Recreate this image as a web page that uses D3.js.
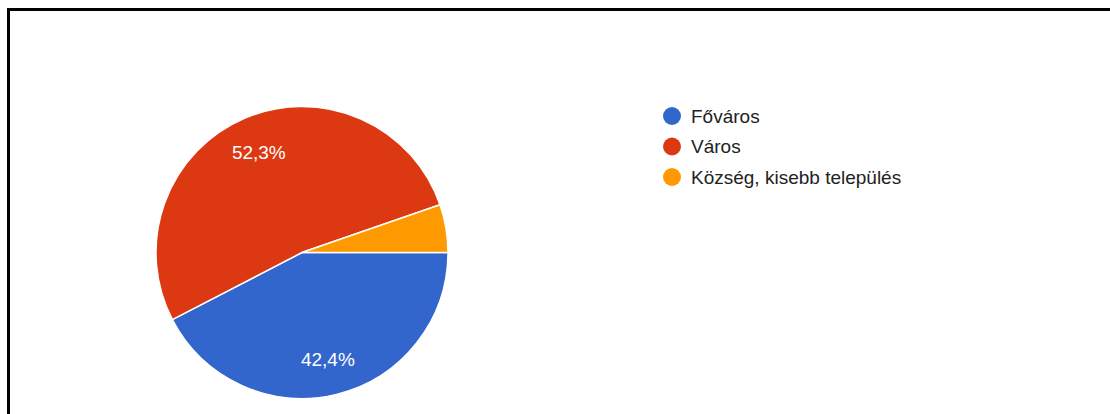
<!DOCTYPE html>
<html>
<head>
<meta charset="utf-8">
<script src="https://cdn.jsdelivr.net/npm/d3@7"></script>
<style>
  body { margin: 0; background: #fff; }
  svg { display: block; font-family: "Liberation Sans", Arial, sans-serif; }
</style>
</head>
<body>
<script>
// slice data
var categories = ["Főváros", "Város", "Község, kisebb település"];
var shares = [42.4, 52.3, 5.3];
var colors = ["#3366cc", "#dc3912", "#ff9900"];

var width = 1110, height = 414;
var cx = 302, cy = 252.5, radius = 146;

var svg = d3.select("body").append("svg")
    .attr("width", width)
    .attr("height", height);

svg.append("rect").attr("width", width).attr("height", height).attr("fill", "#fff");

// frame (top and left edges visible only)
svg.append("path")
    .attr("d", "M8.5," + height + "V9.5H" + width)
    .attr("fill", "none")
    .attr("stroke", "#000")
    .attr("stroke-width", 3);

var pie = d3.pie()
    .sort(null)
    .startAngle(Math.PI / 2)
    .endAngle(Math.PI / 2 + 2 * Math.PI)
    .value(function(d) { return d; });

var arc = d3.arc().innerRadius(0).outerRadius(radius);
var labelArc = d3.arc().innerRadius(radius * 0.75).outerRadius(radius * 0.75);

var g = svg.append("g").attr("transform", "translate(" + cx + "," + cy + ")");

var arcs = pie(shares);

g.selectAll("path.slice")
    .data(arcs)
  .enter().append("path")
    .attr("class", "slice")
    .attr("d", arc)
    .attr("fill", function(d, i) { return colors[i]; })
    .attr("stroke", "#fff")
    .attr("stroke-width", 1.5);

g.selectAll("text.pct")
    .data(arcs.filter(function(d) { return d.data > 10; }))
  .enter().append("text")
    .attr("class", "pct")
    .attr("transform", function(d) { return "translate(" + labelArc.centroid(d) + ")"; })
    .attr("text-anchor", "middle")
    .attr("dy", "0.35em")
    .attr("fill", "#fff")
    .style("font-size", "19px")
    .text(function(d) { return d3.format(".1f")(d.data).replace(".", ",") + "%"; });

// legend
var legend = svg.append("g").attr("transform", "translate(672,116)");
var item = legend.selectAll("g")
    .data(categories)
  .enter().append("g")
    .attr("transform", function(d, i) { return "translate(0," + i * 30.5 + ")"; });

item.append("circle")
    .attr("r", 9)
    .attr("fill", function(d, i) { return colors[i]; });

item.append("text")
    .attr("x", 19)
    .attr("dy", "0.35em")
    .attr("fill", "#222")
    .style("font-size", "19px")
    .text(function(d) { return d; });
</script>
</body>
</html>
